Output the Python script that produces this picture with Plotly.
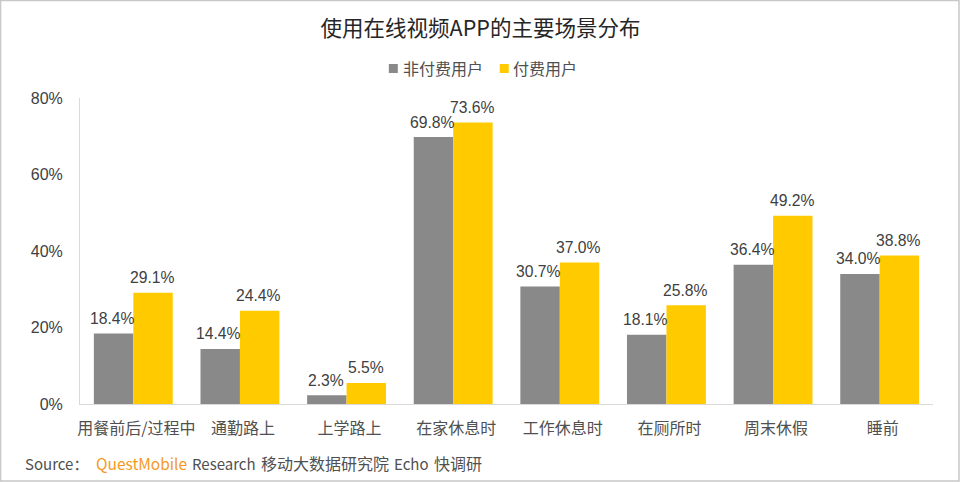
import plotly.graph_objects as go

categories = ["用餐前后/过程中", "通勤路上", "上学路上", "在家休息时", "工作休息时", "在厕所时", "周末休假", "睡前"]
non_paying = [18.4, 14.4, 2.3, 69.8, 30.7, 18.1, 36.4, 34.0]
paying = [29.1, 24.4, 5.5, 73.6, 37.0, 25.8, 49.2, 38.8]
y_ticks = [0, 20, 40, 60, 80]
y_labels = ["0%", "20%", "40%", "60%", "80%"]

FONT = "Noto Sans CJK SC, Liberation Sans, sans-serif"
LABEL = "#404040"
SOFT = "#505050"
GRAY = "#898989"
YELLOW = "#FFCB00"
L, R, T, B = 80, 26.5, 98, 78


def px_x(x):
    return (x - L) / (960 - L - R)


def px_y(y):
    return (482 - B - y) / (482 - T - B)


def text_at(fig, x, y, text, size=16, color=SOFT):
    fig.add_annotation(xref="paper", yref="paper", x=px_x(x), y=px_y(y), xanchor="left", yanchor="middle",
                       showarrow=False, text=text, font=dict(size=size, color=color), borderpad=0)


fig = go.Figure()
for name, values, color, shift in [("非付费用户", non_paying, GRAY, -21), ("付费用户", paying, YELLOW, 19)]:
    fig.add_trace(go.Bar(x=categories, y=values, name=name, marker_color=color, marker_line_width=0))
    # value labels sit further above the bars than textposition="outside" allows
    for cat, v in zip(categories, values):
        fig.add_annotation(x=cat, y=v, xshift=shift, yshift=15, yanchor="middle", showarrow=False,
                           text=f"{v:.1f}%", font=dict(size=15.7, color=LABEL, family="Liberation Sans"))

fig.update_layout(
    width=960, height=482,
    margin=dict(l=L, r=R, t=T, b=B),
    paper_bgcolor="white", plot_bgcolor="white",
    font=dict(family=FONT, size=16, color=SOFT),
    title=dict(text="使用在线视频APP的主要场景分布", x=480.5 / 960, xanchor="center", y=1 - 28 / 482, yanchor="middle",
               font=dict(size=21.5, color="#262626")),
    showlegend=False,
    barmode="group", bargap=0.26, bargroupgap=0,
    shapes=[
        dict(type="rect", xref="paper", yref="paper", x0=px_x(0.5), x1=px_x(959.5), y0=px_y(481), y1=px_y(0.5),
             line=dict(color="#C8C8C8", width=1.5), layer="below"),
        # legend keys
        dict(type="rect", xref="paper", yref="paper", x0=px_x(389), x1=px_x(398), y0=px_y(73), y1=px_y(64),
             fillcolor=GRAY, line_width=0),
        dict(type="rect", xref="paper", yref="paper", x0=px_x(500), x1=px_x(509), y0=px_y(73), y1=px_y(64),
             fillcolor=YELLOW, line_width=0),
    ],
)
fig.update_xaxes(showline=True, linecolor="#D9D9D9", ticks="", showgrid=False, tickfont=dict(size=16),
                 ticklabelstandoff=10, ticklabelshift=3)
fig.update_yaxes(range=[0, 80], tickvals=y_ticks, ticktext=y_labels, showgrid=False, zeroline=False,
                 showline=True, linecolor="#D9D9D9", ticks="", tickfont=dict(size=16, family="Liberation Sans", color=LABEL),
                 ticklabelstandoff=13)

text_at(fig, 402, 68, "非付费用户")
text_at(fig, 512, 68, "付费用户")

text_at(fig, 24, 463, "Source：", size=15)
text_at(fig, 95, 463, "QuestMobile", size=15.5, color="#F39A1E")
text_at(fig, 191, 463, "Research", size=15)
text_at(fig, 260, 463, "移动大数据研究院")
text_at(fig, 393, 463, "Echo", size=15)
text_at(fig, 433, 463, "快调研")

# the page's default body margin would push the fixed-size figure 8px down and right
fig.write_html("out.html", config={"displayModeBar": False}, post_script="document.body.style.margin='0';")
